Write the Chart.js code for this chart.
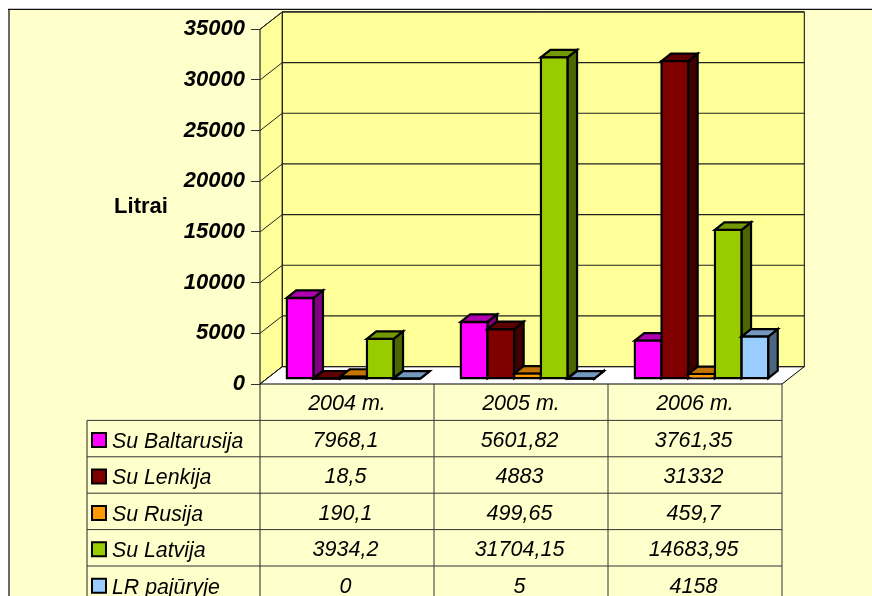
<!DOCTYPE html>
<html>
<head>
<meta charset="utf-8">
<title>Litrai</title>
<script src="https://cdn.jsdelivr.net/npm/chart.js@4/dist/chart.umd.min.js"></script>
<style>
    html, body { margin: 0; padding: 0; background: #fff; overflow: hidden; }
    canvas { display: block; }
</style>
</head>
<body>
<canvas id="chartLitrai" width="872" height="596"></canvas>
<script>
const categories = ['2004 m.', '2005 m.', '2006 m.'];
const seriesNames = ['Su Baltarusija', 'Su Lenkija', 'Su Rusija', 'Su Latvija', 'LR pajūryje'];

const suBaltarusija = [7968.1, 5601.82, 3761.35];
const suLenkija = [18.5, 4883, 31332];
const suRusija = [190.1, 499.65, 459.7];
const suLatvija = [3934.2, 31704.15, 14683.95];
const lrPajuryje = [0, 5, 4158];
const seriesValues = [suBaltarusija, suLenkija, suRusija, suLatvija, lrPajuryje];

// front / top / side colours of each series
const frontColors = ['#FF00FF', '#800000', '#FF9900', '#99CC00', '#99CCFF'];
const topColors = ['#B000B0', '#5E0000', '#C47500', '#729900', '#7399BF'];
const sideColors = ['#800080', '#400000', '#804C00', '#4C6600', '#4C6680'];

const yTickStep = 5000;
const yMax = 35000;
const axisTitle = 'Litrai';

// 3D look
const WALL_DX = 22.3, WALL_DY = -17.4;
const BAR_SHIFT_X = 6.5, BAR_SHIFT_Y = -5.3;
const BAR_DX = 9.5, BAR_DY = -7.5;
const ROW_H = 36.4;
const TABLE_LEFT = 87;

const poly = (ctx, pts, fill, stroke, width) => {
    ctx.beginPath();
    pts.forEach((p, i) => i ? ctx.lineTo(p[0], p[1]) : ctx.moveTo(p[0], p[1]));
    ctx.closePath();
    if (fill) { ctx.fillStyle = fill; ctx.fill(); }
    if (stroke) { ctx.strokeStyle = stroke; ctx.lineWidth = width; ctx.lineJoin = 'miter'; ctx.stroke(); }
}

const line = (ctx, x1, y1, x2, y2, color, width) => {
    ctx.beginPath();
    ctx.moveTo(x1, y1);
    ctx.lineTo(x2, y2);
    ctx.strokeStyle = color;
    ctx.lineWidth = width;
    ctx.stroke();
}

const tresDe = {
    id : 'tresDe',
    beforeDraw(chart) {
        const ctx = chart.ctx;
        const { left, right, top, bottom } = chart.chartArea;
        const y = chart.scales.y;

        // marco del grafico
        ctx.save();
        ctx.fillStyle = '#FFFFCC';
        ctx.fillRect(9, 9.5, 863, 587);
        line(ctx, 9, 9, 9, 596, '#444', 1.6);
        line(ctx, 8, 9.3, 872, 9.3, '#111', 1.2);

        // paredes y piso
        poly(ctx, [[left, top], [left + WALL_DX, top + WALL_DY], [left + WALL_DX, bottom + WALL_DY], [left, bottom]], '#FFFF99', '#000', 1);
        poly(ctx, [[left + WALL_DX, top + WALL_DY], [right + WALL_DX, top + WALL_DY], [right + WALL_DX, bottom + WALL_DY], [left + WALL_DX, bottom + WALL_DY]], '#FFFF99', '#000', 1);
        poly(ctx, [[left, bottom], [left + WALL_DX, bottom + WALL_DY], [right + WALL_DX, bottom + WALL_DY], [right, bottom]], '#FFFFFF', '#000', 1);

        y.ticks.forEach(t => {
            const py = y.getPixelForValue(t.value);
            line(ctx, left, py, left + WALL_DX, py + WALL_DY, '#222', 1);
            line(ctx, left + WALL_DX, py + WALL_DY, right + WALL_DX, py + WALL_DY, '#222', 1.2);
        });

        ctx.fillStyle = '#000';
        ctx.font = 'bold 22px "Liberation Sans"';
        ctx.textAlign = 'center';
        ctx.textBaseline = 'middle';
        ctx.fillText(axisTitle, 141, 206.5);
        ctx.restore();
    },
    beforeDatasetsDraw(chart) {
        const ctx = chart.ctx;
        ctx.save();
        ctx.translate(BAR_SHIFT_X, BAR_SHIFT_Y);
        // left to right so the front of each bar covers the side of the previous one
        chart.data.datasets.forEach((ds, i) => {
            const meta = chart.getDatasetMeta(i);
            meta.data.forEach(bar => {
                const l = bar.x - bar.width / 2, r = bar.x + bar.width / 2;
                const t = bar.y, b = bar.base;
                poly(ctx, [[r, t], [r + BAR_DX, t + BAR_DY], [r + BAR_DX, b + BAR_DY], [r, b]], sideColors[i], '#000', 2.2);
                poly(ctx, [[l, t], [l + BAR_DX, t + BAR_DY], [r + BAR_DX, t + BAR_DY], [r, t]], topColors[i], '#000', 2.2);
            });
            meta.controller.draw();
            // very flat bars lose their border, so put it back
            meta.data.forEach(bar => {
                if (bar.base - bar.y < 3) {
                    const l = bar.x - bar.width / 2, r = bar.x + bar.width / 2;
                    poly(ctx, [[l, bar.y], [r, bar.y], [r, bar.base], [l, bar.base]], null, '#000', 2.2);
                }
            });
        });
        ctx.restore();
        return false;
    },
    afterDraw(chart) {
        const ctx = chart.ctx;
        const { left, right, bottom } = chart.chartArea;
        const x = chart.scales.x;
        const colW = (right - left) / categories.length;

        ctx.save();
        // tabla de datos
        line(ctx, left, bottom, left, 596, '#222', 1);
        line(ctx, right, bottom, right, 596, '#333', 1);
        line(ctx, TABLE_LEFT, bottom + ROW_H, TABLE_LEFT, 596, '#222', 1);
        for (let c = 1; c < categories.length; c++) {
            line(ctx, left + colW * c, bottom, left + colW * c, 596, '#333', 1);
        }
        for (let r = 1; r <= seriesNames.length; r++) {
            line(ctx, TABLE_LEFT, bottom + ROW_H * r, right, bottom + ROW_H * r, '#333', 1);
        }

        ctx.textBaseline = 'middle';
        seriesNames.forEach((name, r) => {
            const cy = bottom + ROW_H * (r + 1.5);
            poly(ctx, [[92, cy - 5.5], [106, cy - 5.5], [106, cy + 8.5], [92, cy + 8.5]], frontColors[r], '#000', 2);
            ctx.fillStyle = '#000';
            ctx.font = 'italic 21.3px "Liberation Sans"';
            ctx.textAlign = 'left';
            ctx.fillText(name, 112, cy + 3.5);
            ctx.font = 'italic 21.5px "Liberation Sans"';
            ctx.textAlign = 'center';
            seriesValues[r].forEach((v, c) => {
                ctx.fillText(String(v).replace('.', ','), x.getPixelForValue(c) - 1.5, cy + 2.5);
            });
        });
        ctx.restore();
    }
}

const chartLitrai = new Chart(document.getElementById('chartLitrai').getContext('2d'), {
    type : 'bar',
    data : {
        labels : categories,
        datasets : seriesNames.map((name, i) => ({
            label : name,
            data : seriesValues[i],
            backgroundColor : frontColors[i],
            borderColor : '#000',
            borderWidth : 2.4,
            borderSkipped : false,
            inflateAmount : 1.2
        }))
    },
    options : {
        responsive : false,
        animation : false,
        layout : {
            autoPadding : false,
            padding : { top : 29.3, right : 90, bottom : 0, left : 0 }
        },
        datasets : {
            bar : { categoryPercentage : 0.767, barPercentage : 1 }
        },
        plugins : {
            legend : { display : false },
            title : { display : false },
            tooltip : { enabled : false }
        },
        scales : {
            x : {
                afterFit : scale => { scale.height = 212; },
                grid : { drawOnChartArea : false, drawTicks : false },
                border : { display : false },
                ticks : {
                    color : '#000',
                    padding : 7,
                    maxRotation : 0,
                    font : { family : '"Liberation Sans"', size : 21.5, style : 'italic' }
                }
            },
            y : {
                min : 0,
                max : yMax,
                afterFit : scale => { scale.width = 260; },
                grid : { drawOnChartArea : false, tickLength : 9, color : '#333' },
                border : { display : false },
                ticks : {
                    stepSize : yTickStep,
                    color : '#000',
                    padding : 6,
                    callback : v => String(v),
                    font : { family : '"Liberation Sans"', size : 22, style : 'italic', weight : 'bold' }
                }
            }
        }
    },
    plugins : [tresDe]
})
</script>
</body>
</html>
